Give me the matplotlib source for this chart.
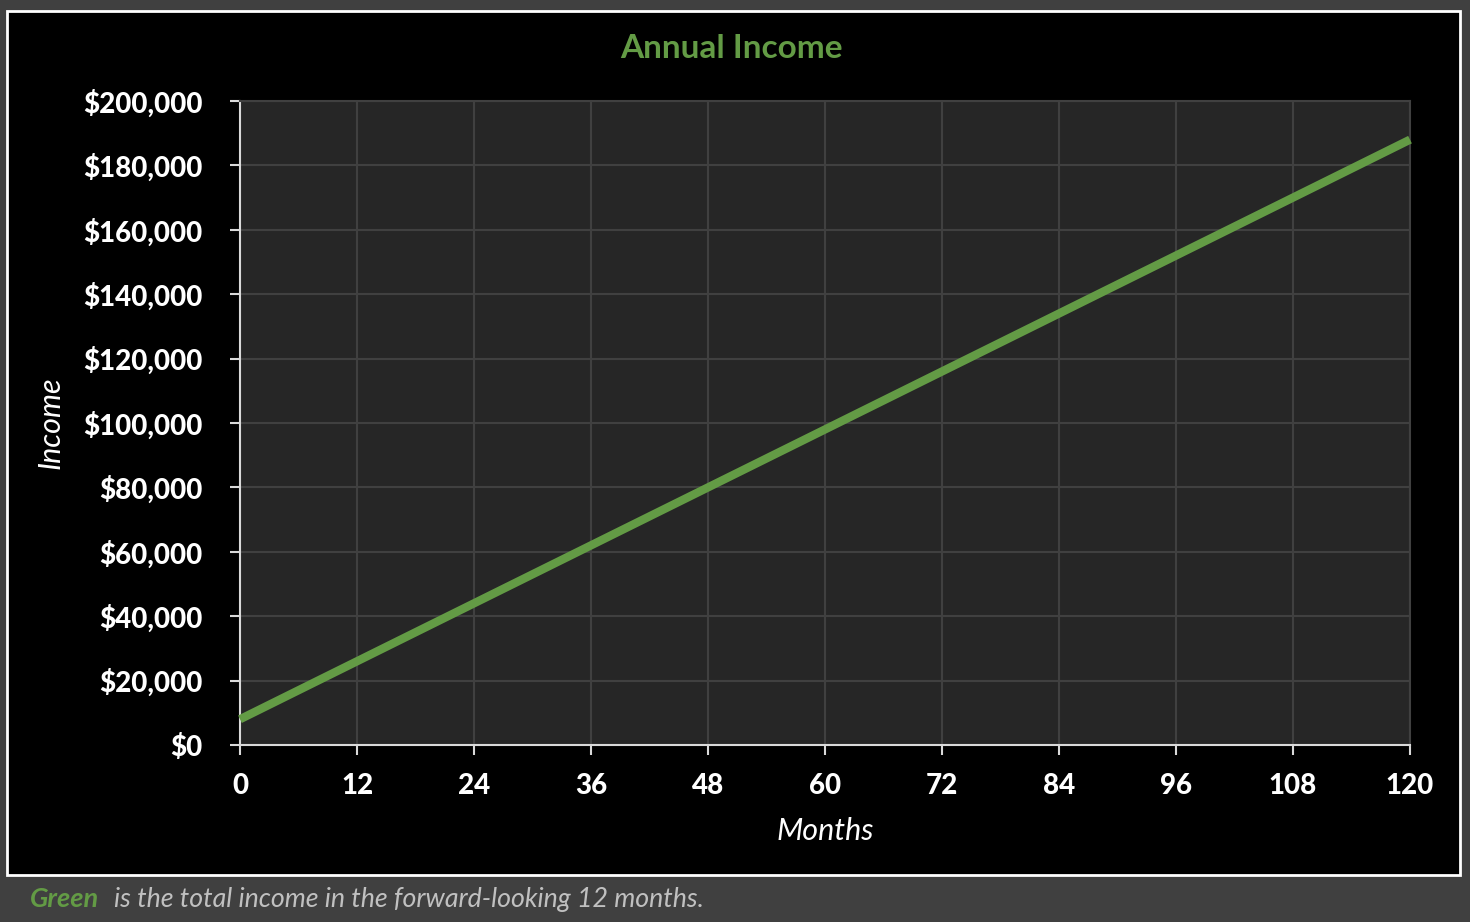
import numpy as np
import matplotlib; matplotlib.use('agg')
import matplotlib.pyplot as plt
from matplotlib.patches import Rectangle
from matplotlib.ticker import FuncFormatter

# data
months = [0, 12, 24, 36, 48, 60, 72, 84, 96, 108, 120]
income = [8000, 26000, 44000, 62000, 80000, 98000, 116000, 134000, 152000, 170000, 188000]
x_ticks = [0, 12, 24, 36, 48, 60, 72, 84, 96, 108, 120]
y_ticks = [0, 20000, 40000, 60000, 80000, 100000, 120000, 140000, 160000, 180000, 200000]

green = '#639b45'
W, H = 1470, 922
plt.rcParams['font.family'] = ['Lato', 'DejaVu Sans']

fig = plt.figure(figsize=(W / 100, H / 100), dpi=100)
fig.patch.set_facecolor('#404040')

# black chart panel with white border
panel = Rectangle((7 / W, 1 - 875 / H), (1460 - 7) / W, (875 - 11) / H,
                  transform=fig.transFigure, facecolor='black',
                  edgecolor='white', lw=2, zorder=-5)
fig.patches.append(panel)

ax = fig.add_axes([240 / W, 1 - 745 / H, (1410 - 240) / W, (745 - 101) / H])
ax.set_facecolor('#262626')
ax.plot(months, income, color=green, lw=6, solid_capstyle='butt', zorder=3, clip_on=False)

ax.set_xlim(0, 120)
ax.set_ylim(0, 200000)
ax.set_xticks(x_ticks)
ax.set_yticks(y_ticks)
ax.yaxis.set_major_formatter(FuncFormatter(lambda v, p: '${:,.0f}'.format(v)))
ax.grid(True, color='#404040', lw=1.5, zorder=1)
ax.set_axisbelow(True)

for s in ['top', 'right']:
    ax.spines[s].set_color('#404040')
    ax.spines[s].set_linewidth(1.5)
for s in ['left', 'bottom']:
    ax.spines[s].set_color('#d9d9d9')
    ax.spines[s].set_linewidth(1.5)

ax.tick_params(axis='both', colors='#d9d9d9', width=1.5, length=7, labelcolor='white', labelsize=20)
ax.tick_params(axis='y', pad=20)
ax.tick_params(axis='x', pad=13)
plt.setp(ax.get_xticklabels() + ax.get_yticklabels(), fontweight='black')

ax.set_xlabel('Months', color='white', fontsize=22, style='italic', labelpad=13)
ax.set_ylabel('Income', color='white', fontsize=22, style='italic')
ax.yaxis.set_label_coords(-0.150, 0.5)

fig.text(731 / W, 1 - 48 / H, 'Annual Income', color=green, fontsize=24,
         fontweight='bold', ha='center', va='center')

# footer note
fig.text(30 / W, 1 - 899 / H, 'Green', color=green, fontsize=19.5,
         fontweight='bold', style='italic', ha='left', va='center')
fig.text(114 / W, 1 - 899 / H, 'is the total income in the forward-looking 12 months.',
         color='#c0c0c0', fontsize=19.3, style='italic', ha='left', va='center')

fig.savefig('out.png', dpi=100, facecolor=fig.get_facecolor())
